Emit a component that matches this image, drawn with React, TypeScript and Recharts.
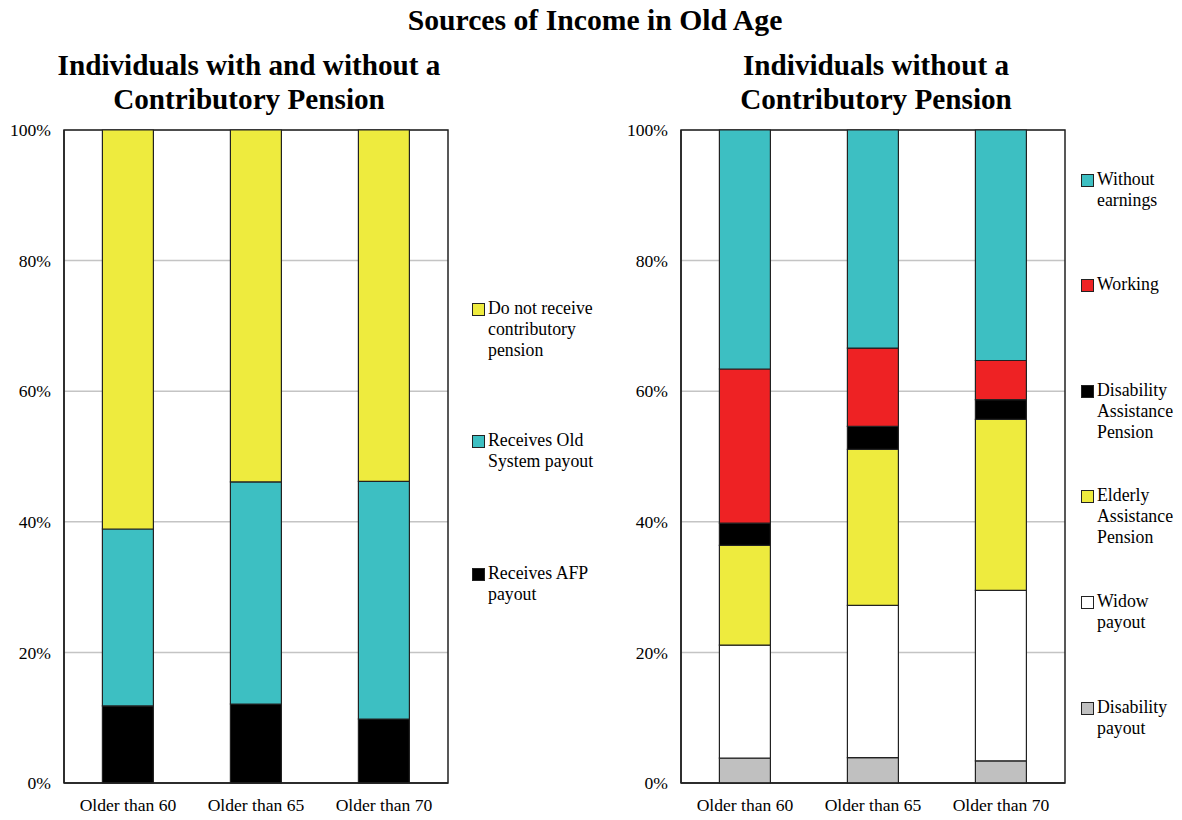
import React from "react";
import { BarChart, Bar, XAxis, YAxis, CartesianGrid, ReferenceArea } from "recharts";

const categories = ["Older than 60", "Older than 65", "Older than 70"];

// Left panel (percent)
const afpPayout = [11.8, 12.1, 9.8];
const oldSystemPayout = [27.1, 34.0, 36.4];
const noContributoryPension = [61.1, 53.9, 53.8];

// Right panel (percent)
const disabilityPayout = [3.8, 3.9, 3.4];
const widowPayout = [17.3, 23.3, 26.1];
const elderlyAssistance = [15.3, 23.9, 26.2];
const disabilityAssistance = [3.4, 3.5, 3.0];
const working = [23.6, 12.0, 6.0];
const withoutEarnings = [36.6, 33.4, 35.3];

const yTicks = [0, 20, 40, 60, 80, 100];

const C_YELLOW = "#EEEB3E";
const C_TEAL = "#3DBFC2";
const C_RED = "#EE2224";
const C_BLACK = "#000000";
const C_WHITE = "#FFFFFF";
const C_GRAY = "#C0C0C0";

const FONT = "'Liberation Serif', 'Times New Roman', serif";

const leftData = categories.map((name, i) => ({
  name,
  afp: afpPayout[i],
  old: oldSystemPayout[i],
  none: noContributoryPension[i],
}));

const rightData = categories.map((name, i) => ({
  name,
  dis: disabilityPayout[i],
  widow: widowPayout[i],
  elderly: elderlyAssistance[i],
  disAssist: disabilityAssistance[i],
  working: working[i],
  without: withoutEarnings[i],
}));

const leftSeries = [
  { key: "afp", color: C_BLACK, lines: ["Receives AFP", "payout"] },
  { key: "old", color: C_TEAL, lines: ["Receives Old", "System payout"] },
  { key: "none", color: C_YELLOW, lines: ["Do not receive", "contributory", "pension"] },
];

const rightSeries = [
  { key: "dis", color: C_GRAY, lines: ["Disability", "payout"] },
  { key: "widow", color: C_WHITE, lines: ["Widow", "payout"] },
  { key: "elderly", color: C_YELLOW, lines: ["Elderly", "Assistance", "Pension"] },
  { key: "disAssist", color: C_BLACK, lines: ["Disability", "Assistance", "Pension"] },
  { key: "working", color: C_RED, lines: ["Working"] },
  { key: "without", color: C_TEAL, lines: ["Without", "earnings"] },
];

const leftLegendTops = [298, 430, 563];
const rightLegendTops = [169, 274, 380, 485, 591, 697];

const tickStyle = { fontFamily: FONT, fontSize: 17.6, fill: "#000" };

function Panel({ data, series }: { data: any[]; series: any[] }) {
  return (
    <BarChart
      width={600}
      height={820}
      data={data}
      margin={{ top: 130, right: 152, bottom: 0, left: 0 }}
      barCategoryGap="30%"
    >
      <CartesianGrid vertical={false} stroke="#C4C4C4" strokeWidth={1.5} />
      <XAxis
        dataKey="name"
        tick={tickStyle}
        tickLine={false}
        axisLine={{ stroke: "#222", strokeWidth: 1.5 }}
        tickSize={6}
        tickMargin={10}
        height={37}
        interval={0}
      />
      <YAxis
        domain={[0, 100]}
        ticks={yTicks}
        tickFormatter={(v: number) => `${v}%`}
        tick={tickStyle}
        tickLine={false}
        axisLine={{ stroke: "#222", strokeWidth: 1.5 }}
        tickSize={6}
        tickMargin={7}
        width={64}
        interval={0}
      />
      {series.map((s) => (
        <Bar
          key={s.key}
          dataKey={s.key}
          stackId="a"
          fill={s.color}
          stroke="#222"
          strokeWidth={1.2}
          isAnimationActive={false}
        />
      ))}
      <ReferenceArea y1={0} y2={100} fill="none" fillOpacity={0} stroke="#222" strokeWidth={1.5} />
    </BarChart>
  );
}

function LegendBlock({ items, tops, left }: { items: any[]; tops: number[]; left: number }) {
  return (
    <>
      {items.map((s, i) => (
        <div
          key={s.key}
          style={{ position: "absolute", left, top: tops[i], fontFamily: FONT, fontSize: 17.8, lineHeight: "21px", color: "#000", display: "flex" }}
        >
          <div
            style={{ width: 11, height: 11, background: s.color, border: "1.2px solid #222", marginTop: 5, marginRight: 3, flex: "none" }}
          />
          <div>
            {s.lines.map((l: string, j: number) => (
              <div key={j} style={{ whiteSpace: "nowrap" }}>{l}</div>
            ))}
          </div>
        </div>
      ))}
    </>
  );
}

export default function App() {
  const titleStyle: React.CSSProperties = {
    position: "absolute",
    fontFamily: FONT,
    fontWeight: "bold",
    color: "#000",
    textAlign: "center",
    whiteSpace: "nowrap",
  };
  return (
    <div style={{ position: "absolute", left: 0, top: 0, width: 1182, height: 820, background: "#fff", overflow: "hidden" }}>
      <div style={{ ...titleStyle, left: 4, width: 1182, top: 3, fontSize: 29.7, lineHeight: "34px" }}>
        Sources of Income in Old Age
      </div>
      <div style={{ ...titleStyle, left: 49, width: 400, top: 48, fontSize: 29.2, lineHeight: "34px" }}>
        Individuals with and without a<br />Contributory Pension
      </div>
      <div style={{ ...titleStyle, left: 676, width: 400, top: 48, fontSize: 29.2, lineHeight: "34px" }}>
        Individuals without a<br />Contributory Pension
      </div>
      <div style={{ position: "absolute", left: 0, top: 0 }}>
        <Panel data={leftData} series={leftSeries} />
      </div>
      <div style={{ position: "absolute", left: 617, top: 0 }}>
        <Panel data={rightData} series={rightSeries} />
      </div>
      <LegendBlock items={[...leftSeries].reverse()} tops={leftLegendTops} left={472} />
      <LegendBlock items={[...rightSeries].reverse()} tops={rightLegendTops} left={1081} />
    </div>
  );
}
